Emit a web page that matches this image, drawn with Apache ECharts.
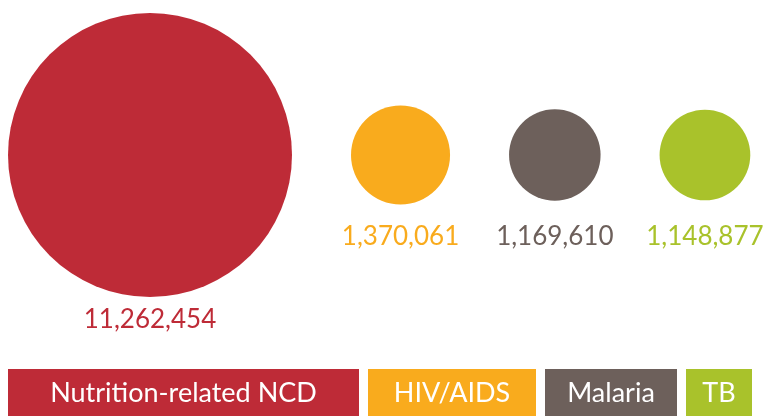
<!DOCTYPE html>
<html>
<head>
<meta charset="utf-8">
<script src="https://cdn.jsdelivr.net/npm/echarts@6/dist/echarts.min.js"></script>
<style>
html,body{margin:0;padding:0;background:#fff;}
#main{width:765px;height:417px;}
</style>
</head>
<body>
<div id="main"></div>
<script>
// ---- data ----
const categories = ['Nutrition-related NCD', 'HIV/AIDS', 'Malaria', 'TB'];
const values = [11262454, 1370061, 1169610, 1148877];

// ---- styles / layout ----
const colors = ['#BE2B37', '#F9AB1D', '#6D605B', '#A9C22B'];
const FONT = 'Lato';
const maxDiameter = 284;
const leftEdge = 8;
const circleGap = 59;
const centerY = 155;
const bigLabelDistance = 10;
const smallLabelDistance = 19;
const legendWidths = [351, 168, 132, 66];
const legendGap = 9;
const legendTop = 369;
const legendHeight = 47;

const vmax = Math.max(...values);
const diam = v => maxDiameter * Math.sqrt(v / vmax);
const maxSmallR = Math.max(...values.slice(1).map(v => diam(v) / 2));

let cursor = leftEdge;
const points = values.map((v, i) => {
  const d = diam(v);
  const cx = cursor + d / 2;
  cursor += d + circleGap;
  return {
    value: [cx, centerY, v],
    itemStyle: { color: colors[i], opacity: 1 },
    label: {
      color: colors[i],
      distance: i === 0 ? bigLabelDistance : smallLabelDistance + (maxSmallR - d / 2)
    }
  };
});

const graphics = [];
let lx = leftEdge;
categories.forEach((c, i) => {
  const w = legendWidths[i];
  graphics.push({
    type: 'rect',
    shape: { x: lx, y: legendTop, width: w, height: legendHeight },
    style: { fill: colors[i] },
    silent: true
  });
  graphics.push({
    type: 'text',
    x: lx + w / 2,
    y: legendTop + legendHeight / 2 + 1,
    style: {
      text: c,
      fill: '#fff',
      font: '27px ' + FONT,
      align: 'center',
      verticalAlign: 'middle'
    },
    silent: true
  });
  lx += w + legendGap;
});

const chart = echarts.init(document.getElementById('main'), null, { renderer: 'canvas' });
chart.setOption({
  animation: false,
  grid: { left: 0, right: 0, top: 0, bottom: 0 },
  xAxis: { type: 'value', min: 0, max: 765, show: false },
  yAxis: { type: 'value', min: 0, max: 417, inverse: true, show: false },
  series: [{
    type: 'scatter',
    data: points,
    symbol: 'circle',
    symbolSize: val => diam(val[2]),
    itemStyle: { opacity: 1 },
    label: {
      show: true,
      position: 'bottom',
      fontFamily: FONT,
      fontSize: 26,
      formatter: p => p.value[2].toLocaleString('en-US')
    },
    emphasis: { disabled: true }
  }],
  graphic: graphics
});
</script>
</body>
</html>
